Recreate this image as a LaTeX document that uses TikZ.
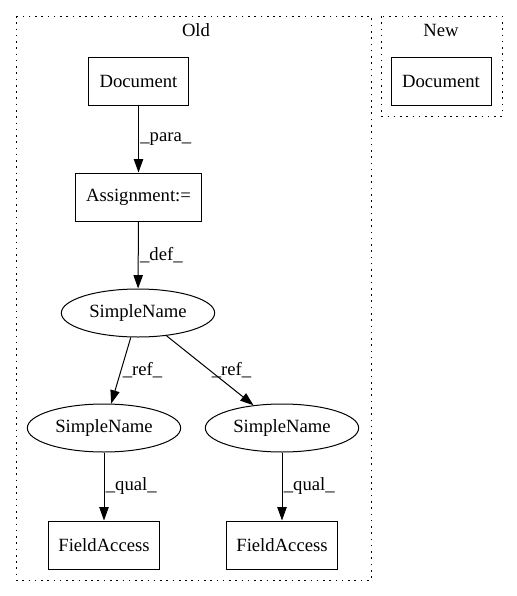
\documentclass[tikz,border=0pt]{standalone}
\usepackage{fontspec}
\setmainfont{Liberation Serif}
\usepackage{tikz}
\usetikzlibrary{shapes.geometric,arrows.meta}

\tikzset{
  box/.style={draw,rectangle,line width=0.75pt,minimum height=36pt,inner sep=2pt},
  oval/.style={draw,ellipse,line width=0.75pt,minimum width=115pt,minimum height=36pt,inner sep=1pt},
  edge/.style={draw,line width=0.75pt,-{Triangle[length=10pt,width=7pt]}},
  elabel/.style={right,inner sep=1pt,font=\fontsize{14}{16}\selectfont},
  cluster/.style={draw,line width=0.75pt,dash pattern=on 1.2pt off 3.5pt}
}

\begin{document}
\begin{tikzpicture}[x=0.75pt,y=-0.75pt,font=\fontsize{14}{16}\selectfont]
\useasboundingbox (0,0) rectangle (517,596);

% Clusters
\draw[cluster] (16,16) rectangle (371,580);
\node (oldlbl) at (196,30) {Old};
\draw[cluster] (381,16) rectangle (502,116);
\node (newlbl) at (441,30) {New};

% Old nodes
\node[box,minimum width=75pt] (doc) at (138.5,81) {Document};
\node[box,minimum width=94pt] (asg) at (138.5,197) {Assignment:=};
\node[oval] (sn) at (138,313) {SimpleName};
\foreach \x/\n in {104/l,282/r}
{
  \node[oval] (sn\n) at (\x,428) {SimpleName};
  \node[box,minimum width=83pt] (fa\n) at (\x,545) {FieldAccess};
}

% New node
\node[box,minimum width=75pt] (docnew) at (441,81) {Document};

% Edges
\draw[edge] (doc) -- node[elabel] (lpara) {\_para\_} (asg);
\draw[edge] (asg) -- node[elabel] (ldef) {\_def\_} (sn);
\draw[edge] (sn) -- node[elabel] (lrefl) {\_ref\_} (snl);
\draw[edge] (sn) -- node[elabel] (lrefr) {\_ref\_} (snr);
\foreach \n in {l,r}
  \draw[edge] (sn\n) -- node[elabel] (lqual\n) {\_qual\_} (fa\n);
\end{tikzpicture}
\end{document}
